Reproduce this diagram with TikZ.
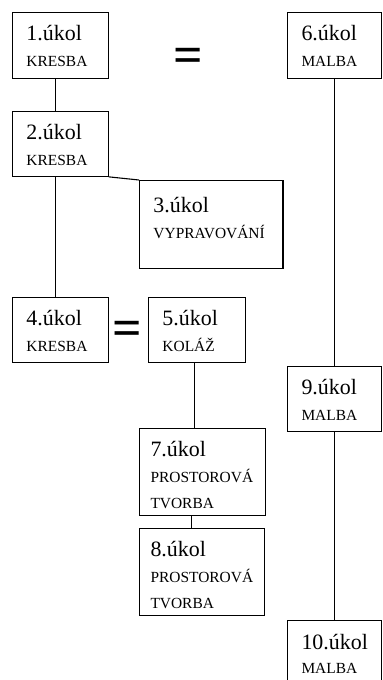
\documentclass[tikz,border=0pt]{standalone}
\usepackage{fontspec}
\setmainfont{Liberation Serif}
\newcommand{\ukol}[2]{{\fontsize{22}{26}\selectfont #1.úkol}\\#2}

\begin{document}
\begin{tikzpicture}[x=1bp, y=-1bp, line width=1.1pt,
      ukol/.style 2 args={draw, anchor=north west, inner sep=0pt,
        minimum width=#1, minimum height=#2},
      popis/.style={anchor=north west, align=left, inner sep=0pt,
        xshift=14pt, yshift=-13pt, font=\fontsize{15.5}{26}\selectfont},
      rovno/.style={font=\fontsize{52}{52}\selectfont\bfseries, inner sep=0pt}]
      \useasboundingbox (0,0) rectangle (382,680);
      % levy sloupec
      \node[ukol={96}{66}, label={[popis]north west:{\ukol{1}{KRESBA}}}] (u1) at (12,12) {};
      \node[ukol={96}{65}, label={[popis]north west:{\ukol{2}{KRESBA}}}] (u2) at (12,111) {};
      \node[ukol={144}{88}, label={[popis, yshift=-4pt]north west:{\ukol{3}{VYPRAVOVÁNÍ}}}] (u3) at (139,180) {};
      \node[ukol={96}{65}, label={[popis]north west:{\ukol{4}{KRESBA}}}] (u4) at (12,297) {};
      \node[ukol={97}{65}, label={[popis]north west:{\ukol{5}{KOLÁŽ}}}] (u5) at (148,297) {};
      \node[ukol={126}{87}, label={[popis, xshift=-3pt]north west:{\ukol{7}{PROSTOROVÁ\\TVORBA}}}] (u7) at (139,428) {};
      \node[ukol={125}{87}, label={[popis, xshift=-3pt]north west:{\ukol{8}{PROSTOROVÁ\\TVORBA}}}] (u8) at (139,528) {};
      % pravy sloupec
      \node[ukol={94}{66}, label={[popis]north west:{\ukol{6}{MALBA}}}] (u6) at (287,12) {};
      \node[ukol={94}{65}, label={[popis]north west:{\ukol{9}{MALBA}}}] (u9) at (287,366) {};
      \node[ukol={94}{80}, label={[popis, yshift=-1pt, font=\fontsize{15.5}{24}\selectfont]north west:{\ukol{10}{MALBA}}}] (u10) at (287,620) {};
      % rovnitka
      \node[rovno] (eq1) at (188,60) {=};
      \node[rovno] (eq2) at (127,333) {=};
      % spojnice
      \draw ([xshift=-5pt]u1.south) -- ([xshift=-5pt]u2.north);
      \draw ([xshift=-5pt]u2.south) -- ([xshift=-5pt]u4.north);
      \draw (u2.south east) -- (u3.north west);
      \draw ([xshift=-2pt]u5.south) -- ([xshift=-2pt]u5.south |- u7.north);
      \draw ([xshift=-11pt]u7.south) -- ([xshift=-11pt]u7.south |- u8.north);
      \draw (u6.south) -- (u6.south |- u9.north);
      \draw (u9.south) -- (u9.south |- u10.north);
    \end{tikzpicture}
\end{document}
